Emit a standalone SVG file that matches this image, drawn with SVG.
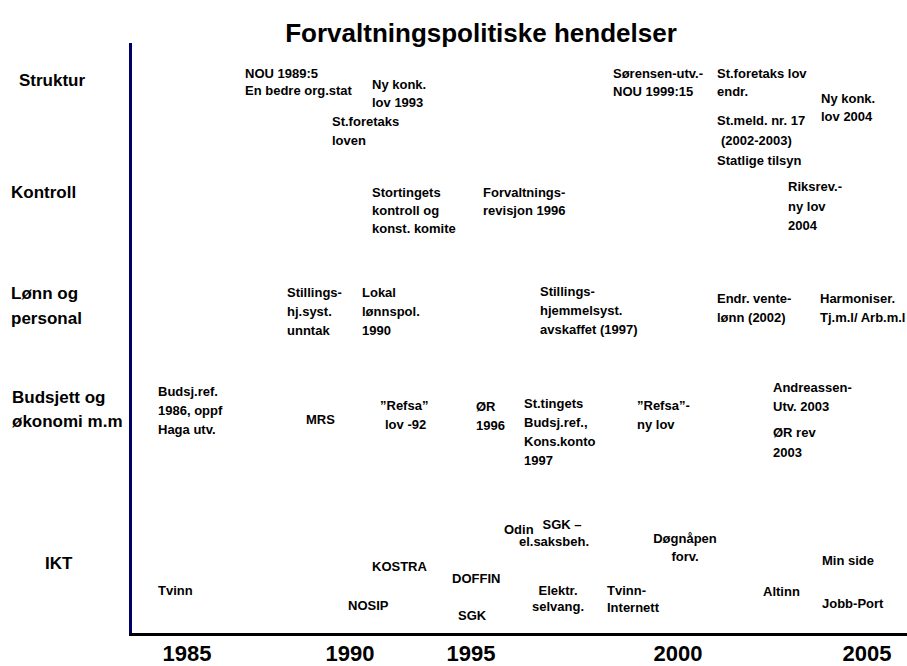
<svg xmlns="http://www.w3.org/2000/svg" width="907" height="666" viewBox="0 0 907 666">
<style>
text{font-family:"Liberation Sans",Arial,sans-serif;font-weight:bold;fill:#000}
.title{font-size:26px}
.row{font-size:17px}
.ev{font-size:13px}
.yr{font-size:22px;text-anchor:middle}
.mid{text-anchor:middle}
</style>
<rect width="907" height="666" fill="#fff"/>
<text class="title" x="481" y="42" text-anchor="middle">Forvaltningspolitiske hendelser</text>
<g id="axes">
<line x1="130.5" y1="43" x2="130.5" y2="635" stroke="#000066" stroke-width="3"/>
<line x1="129" y1="634.5" x2="907" y2="634.5" stroke="#000" stroke-width="3"/>
</g>
<g id="rows">
<text class="row" x="19" y="86">Struktur</text>
<text class="row" x="11" y="198">Kontroll</text>
<text class="row" x="11" y="299">Lønn og</text>
<text class="row" x="11" y="324">personal</text>
<text class="row" x="12" y="403">Budsjett og</text>
<text class="row" x="12" y="427">økonomi m.m</text>
<text class="row" x="45" y="569">IKT</text>
</g>
<g id="years">
<text class="yr" x="187" y="661">1985</text>
<text class="yr" x="350" y="661">1990</text>
<text class="yr" x="471" y="661">1995</text>
<text class="yr" x="678" y="661">2000</text>
<text class="yr" x="867" y="661">2005</text>
</g>
<g id="struktur">
<text class="ev" x="245" y="78">NOU 1989:5</text>
<text class="ev" x="245" y="95">En bedre org.stat</text>
<text class="ev" x="372" y="89">Ny konk.</text>
<text class="ev" x="372" y="107">lov 1993</text>
<text class="ev" x="332" y="126">St.foretaks</text>
<text class="ev" x="332" y="145">loven</text>
<text class="ev" x="613" y="78">Sørensen-utv.-</text>
<text class="ev" x="613" y="96">NOU 1999:15</text>
<text class="ev" x="717" y="78">St.foretaks lov</text>
<text class="ev" x="717" y="96">endr.</text>
<text class="ev" x="717" y="125">St.meld. nr. 17</text>
<text class="ev" x="721" y="145">(2002-2003)</text>
<text class="ev" x="717" y="165">Statlige tilsyn</text>
<text class="ev" x="821" y="103">Ny konk.</text>
<text class="ev" x="821" y="121">lov 2004</text>
</g>
<g id="kontroll">
<text class="ev" x="372" y="197">Stortingets</text>
<text class="ev" x="372" y="215">kontroll og</text>
<text class="ev" x="372" y="233">konst. komite</text>
<text class="ev" x="483" y="197">Forvaltnings-</text>
<text class="ev" x="483" y="215">revisjon 1996</text>
<text class="ev" x="788" y="191">Riksrev.-</text>
<text class="ev" x="788" y="211">ny lov</text>
<text class="ev" x="788" y="230">2004</text>
</g>
<g id="lonn">
<text class="ev" x="287" y="297">Stillings-</text>
<text class="ev" x="287" y="316">hj.syst.</text>
<text class="ev" x="287" y="335">unntak</text>
<text class="ev" x="362" y="297">Lokal</text>
<text class="ev" x="362" y="316">lønnspol.</text>
<text class="ev" x="362" y="335">1990</text>
<text class="ev" x="540" y="296">Stillings-</text>
<text class="ev" x="540" y="315">hjemmelsyst.</text>
<text class="ev" x="540" y="334">avskaffet (1997)</text>
<text class="ev" x="717" y="303">Endr. vente-</text>
<text class="ev" x="717" y="322">lønn (2002)</text>
<text class="ev" x="820" y="303">Harmoniser.</text>
<text class="ev" x="820" y="322">Tj.m.l/ Arb.m.l</text>
</g>
<g id="budsjett">
<text class="ev" x="158" y="396">Budsj.ref.</text>
<text class="ev" x="158" y="415">1986, oppf</text>
<text class="ev" x="158" y="434">Haga utv.</text>
<text class="ev" x="306" y="424">MRS</text>
<text class="ev" x="380" y="410">”Refsa”</text>
<text class="ev" x="385" y="429">lov -92</text>
<text class="ev" x="476" y="411">ØR</text>
<text class="ev" x="476" y="430">1996</text>
<text class="ev" x="524" y="408">St.tingets</text>
<text class="ev" x="524" y="427">Budsj.ref.,</text>
<text class="ev" x="524" y="446">Kons.konto</text>
<text class="ev" x="524" y="465">1997</text>
<text class="ev" x="637" y="410">”Refsa”-</text>
<text class="ev" x="637" y="429">ny lov</text>
<text class="ev" x="773" y="392">Andreassen-</text>
<text class="ev" x="773" y="411">Utv. 2003</text>
<text class="ev" x="773" y="437">ØR rev</text>
<text class="ev" x="773" y="457">2003</text>
</g>
<g id="ikt">
<text class="ev" x="158" y="595">Tvinn</text>
<text class="ev" x="372" y="571">KOSTRA</text>
<text class="ev" x="348" y="610">NOSIP</text>
<text class="ev" x="452" y="583">DOFFIN</text>
<text class="ev" x="458" y="620">SGK</text>
<text class="ev" x="504" y="534">Odin</text>
<text class="ev mid" x="562" y="529">SGK –</text>
<text class="ev mid" x="554" y="546">el.saksbeh.</text>
<text class="ev mid" x="558" y="595">Elektr.</text>
<text class="ev mid" x="558" y="611">selvang.</text>
<text class="ev" x="607" y="595">Tvinn-</text>
<text class="ev" x="607" y="612">Internett</text>
<text class="ev mid" x="685" y="543">Døgnåpen</text>
<text class="ev mid" x="685" y="561">forv.</text>
<text class="ev" x="763" y="596">Altinn</text>
<text class="ev" x="822" y="565">Min side</text>
<text class="ev" x="822" y="608">Jobb-Port</text>
</g>
</svg>
